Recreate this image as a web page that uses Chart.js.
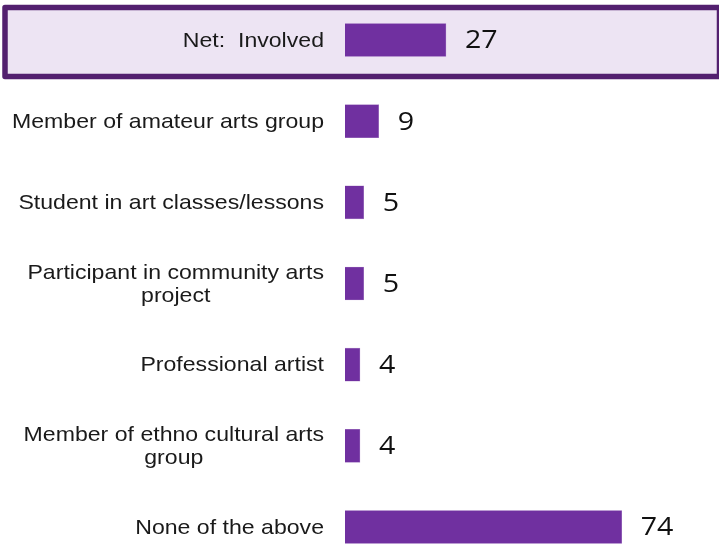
<!DOCTYPE html>
<html>
<head>
<meta charset="utf-8">
<script src="https://cdn.jsdelivr.net/npm/chart.js@4"></script>
<style>
  html, body { margin: 0; padding: 0; background: #ffffff; }
  #wrap { width: 719px; height: 548px; position: relative; }
</style>
</head>
<body>
<div id="wrap"><canvas id="involvementChart"></canvas></div>
<script>
// Arts involvement (%) //
const categories = [
    'Net:  Involved',
    'Member of amateur arts group',
    'Student in art classes/lessons',
    ['Participant in community arts', 'project'],
    'Professional artist',
    ['Member of ethno cultural arts', 'group'],
    'None of the above'
];
const percentValues = [27, 9, 5, 5, 4, 4, 74];
const highlightIndex = 0;

const barColor = '#7030a0';
const stretch = 1.1; // text in the original is drawn a little wide

// Draws the highlight box behind the "Net" row
const highlightBox = {
    id: 'highlightBox',
    beforeDatasetsDraw(chart) {
        const ctx = chart.ctx;
        const y = chart.scales.y.getPixelForValue(highlightIndex);
        ctx.save();
        ctx.fillStyle = '#ede4f3';
        ctx.fillRect(5, y - 32, 720, 68);
        ctx.strokeStyle = '#53206f';
        ctx.lineWidth = 5.5;
        ctx.lineJoin = 'round';
        ctx.strokeRect(5, y - 32.5, 714.5, 69);
        ctx.restore();
    }
};

// Category labels and value labels
const rowLabels = {
    id: 'rowLabels',
    afterDatasetsDraw(chart) {
        const ctx = chart.ctx;
        const yScale = chart.scales.y;
        const meta = chart.getDatasetMeta(0);
        ctx.save();
        ctx.textBaseline = 'middle';
        categories.forEach((label, i) => {
            const y = yScale.getPixelForValue(i);
            const lines = Array.isArray(label) ? label : [label];
            ctx.font = '21px "Liberation Sans", Arial, sans-serif';
            ctx.fillStyle = '#1a1a1a';
            const widest = Math.max(...lines.map(l => ctx.measureText(l).width)) * stretch;
            const cx = 324 - widest / 2;
            const lineH = 23;
            lines.forEach((line, j) => {
                const ly = y + 1 + (j - (lines.length - 1) / 2) * lineH;
                ctx.save();
                ctx.translate(cx, ly);
                ctx.scale(stretch, 1);
                ctx.textAlign = 'center';
                ctx.fillText(line, 0, 0);
                ctx.restore();
            });

            // value next to the bar
            const bar = meta.data[i];
            ctx.save();
            ctx.translate(bar.x + 19, y + 1);
            ctx.scale(stretch, 1);
            ctx.font = '26px "Open Sans", "Noto Sans", sans-serif';
            ctx.fillStyle = '#111111';
            ctx.textAlign = 'left';
            ctx.fillText(String(percentValues[i]), 0, 0);
            ctx.restore();
        });
        ctx.restore();
    }
};

function renderInvolvementChart() {
    const ctx = document.getElementById('involvementChart').getContext('2d');
    new Chart(ctx, {
        type: 'bar',
        data: {
            labels: categories,
            datasets: [{
                data: percentValues,
                backgroundColor: barColor,
                borderColor: '#a67fc4',
                borderWidth: 0.6,
                barThickness: 33,
                clip: false
            }]
        },
        options: {
            indexAxis: 'y',
            responsive: true,
            maintainAspectRatio: false,
            animation: false,
            layout: { padding: { left: 345, right: 0, top: 40, bottom: 21 } },
            plugins: {
                legend: { display: false },
                tooltip: { enabled: false }
            },
            scales: {
                x: { display: false, min: 0, max: 100 },
                y: { display: false, offset: false }
            }
        },
        plugins: [highlightBox, rowLabels]
    });
}

document.addEventListener('DOMContentLoaded', renderInvolvementChart);
</script>
</body>
</html>
